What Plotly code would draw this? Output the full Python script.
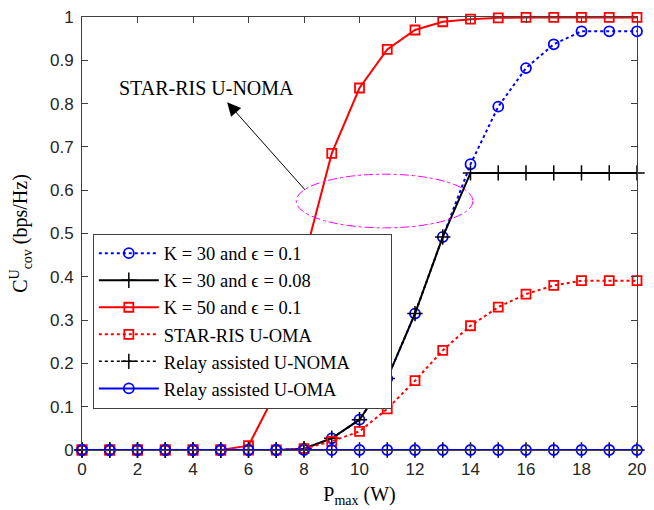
import plotly.graph_objects as go

p_max = list(range(0, 21))
k30_e01 = [0, 0, 0, 0, 0, 0, 0, 0, 0.003, 0.027, 0.07, 0.165, 0.315, 0.492, 0.66, 0.793, 0.882, 0.937, 0.967, 0.967, 0.967]
k30_e008 = [0, 0, 0, 0, 0, 0, 0, 0, 0.003, 0.027, 0.07, 0.165, 0.315, 0.492, 0.64, 0.64, 0.64, 0.64, 0.64, 0.64, 0.64]
k50_e01 = [0, 0, 0, 0, 0, 0, 0.01, 0.135, 0.44, 0.685, 0.836, 0.925, 0.97, 0.989, 0.995, 0.998, 0.999, 0.999, 0.999, 0.999, 0.999]
star_oma = [0, 0, 0, 0, 0, 0, 0, 0, 0.003, 0.02, 0.043, 0.095, 0.16, 0.23, 0.287, 0.33, 0.36, 0.38, 0.391, 0.391, 0.391]
relay_noma = [0] * 21
relay_oma = [0] * 21

names = ["K = 30 and \u03f5 = 0.1", "K = 30 and \u03f5 = 0.08", "K = 50 and \u03f5 = 0.1",
         "STAR-RIS U-OMA", "Relay assisted U-NOMA", "Relay assisted U-OMA"]
x_ticks = list(range(0, 21, 2))
y_ticks = [round(0.1 * i, 1) for i in range(11)]

serif = "Liberation Serif, Times New Roman, serif"
sans = "Liberation Sans, Arial, sans-serif"

fig = go.Figure()
fig.add_trace(go.Scatter(x=p_max, y=k30_e01, name=names[0], mode="lines+markers",
                         line=dict(color="#0000ff", width=2, dash="dot"),
                         marker=dict(symbol="circle-open", size=10, color="#0000ff", line=dict(width=1.8)),
                         cliponaxis=False))
fig.add_trace(go.Scatter(x=p_max, y=k30_e008, name=names[1], mode="lines+markers",
                         line=dict(color="#000000", width=2),
                         marker=dict(symbol="cross-thin-open", size=11, color="#000000", line=dict(width=1.5)),
                         cliponaxis=False))
fig.add_trace(go.Scatter(x=p_max, y=k50_e01, name=names[2], mode="lines+markers",
                         line=dict(color="#ff0000", width=2),
                         marker=dict(symbol="square-open", size=9, color="#ff0000", line=dict(width=1.8)),
                         cliponaxis=False))
fig.add_trace(go.Scatter(x=p_max, y=star_oma, name=names[3], mode="lines+markers",
                         line=dict(color="#ff0000", width=2, dash="dot"),
                         marker=dict(symbol="square-open", size=9, color="#ff0000", line=dict(width=1.8)),
                         cliponaxis=False))
fig.add_trace(go.Scatter(x=p_max, y=relay_noma, name=names[4], mode="lines+markers",
                         line=dict(color="#000000", width=1.5, dash="dot"),
                         marker=dict(symbol="cross-thin-open", size=11, color="#000000", line=dict(width=1.5)),
                         cliponaxis=False))
fig.add_trace(go.Scatter(x=p_max, y=relay_oma, name=names[5], mode="lines+markers",
                         line=dict(color="#0000ff", width=2),
                         marker=dict(symbol="circle-open", size=10, color="#0000ff", line=dict(width=1.8)),
                         cliponaxis=False))

# ellipse highlight
fig.add_shape(type="circle", xref="x", yref="y", x0=7.72, x1=14.09, y0=0.513, y1=0.637,
              line=dict(color="#ff00ff", width=1, dash="dashdot"))
# arrow
fig.add_annotation(x=5.23, y=0.803, ax=8.09, ay=0.597, xref="x", yref="y", axref="x", ayref="y",
                   text="", showarrow=True, arrowhead=2, arrowsize=2.7, arrowwidth=1, arrowcolor="#000000")
fig.add_annotation(x=4.5, y=0.837, xref="x", yref="y", text="STAR-RIS U-NOMA", showarrow=False,
                   font=dict(family=serif, size=20, color="#000000"))

axis_common = dict(showline=True, linecolor="#404040", linewidth=1, mirror="ticks", ticks="inside",
                   ticklen=6, tickcolor="#404040", showgrid=False, zeroline=False,
                   ticklabeloverflow="allow",
                   tickfont=dict(family=sans, size=17, color="#262626"))
fig.update_xaxes(range=[0, 20], tickvals=x_ticks,
                 title=dict(text="P<sub>max</sub> (W)", font=dict(family=serif, size=20, color="#000000"), standoff=8),
                 ticklabelstandoff=4, **axis_common)
fig.update_yaxes(range=[0, 1], tickvals=y_ticks,
                 title=dict(text="C<sup>U</sup><sub>cov</sub> (bps/Hz)", font=dict(family=serif, size=20, color="#000000"), standoff=16),
                 ticklabelstandoff=4, **axis_common)

fig.update_layout(
    width=654, height=510,
    margin=dict(l=82, r=8, t=8, b=60),
    plot_bgcolor="white", paper_bgcolor="white",
    showlegend=True,
    legend=dict(x=0.0195, y=0.4997, xanchor="left", yanchor="top",
                orientation="h", entrywidth=222, entrywidthmode="pixels",
                bgcolor="white", bordercolor="#404040", borderwidth=1,
                font=dict(family=serif, size=18.5, color="#000000"),
                tracegroupgap=0, itemwidth=60),
)

fig.write_html("out.html", config={"displayModeBar": False},
               post_script="document.body.style.margin='0';")
